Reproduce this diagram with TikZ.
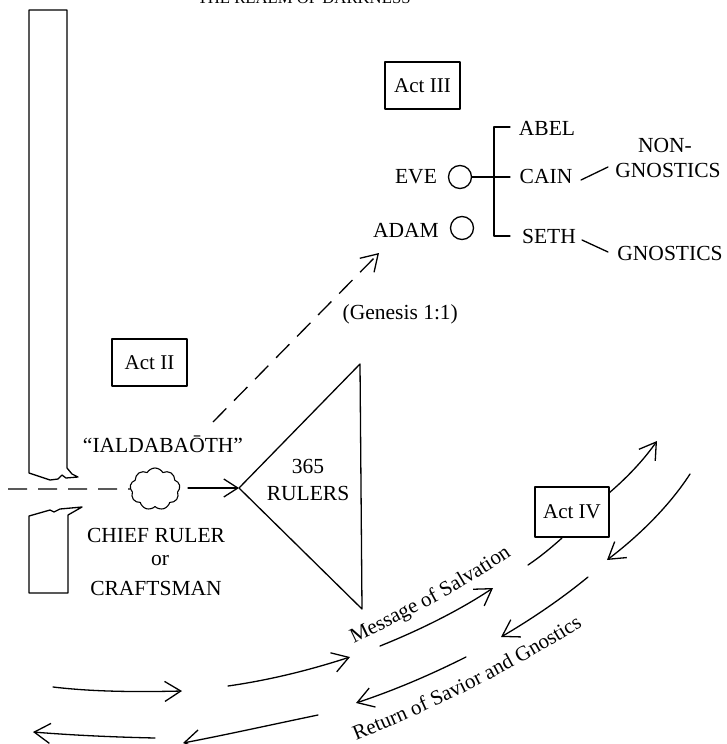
\documentclass[tikz,border=0pt]{standalone}
\usepackage{fontspec}
\setmainfont{Liberation Serif}
\usetikzlibrary{arrows.meta,shapes.symbols,decorations.text}
\begin{document}
\begin{tikzpicture}[x=1pt,y=-1pt, line width=1.3pt, line join=round, line cap=round,
  lbl/.style={font=\fontsize{21.5}{26}\selectfont, inner sep=0pt, anchor=base},
  actbox/.style={draw, line width=1.3pt, minimum width=75pt, minimum height=47pt,
                 font=\fontsize{21}{25}\selectfont, inner sep=0pt},
  barb/.style={-{Straight Barb[length=16pt,width=20pt,line width=1.3pt]}},
  ring/.style={circle, draw, minimum size=23pt, inner sep=0pt, line width=1.3pt},
  dsh/.style={dash pattern=on 19pt off 11pt, line cap=butt}
]
\useasboundingbox (0,0) rectangle (726,744);

% title (cut at top)
\node[lbl, anchor=base west, font=\fontsize{16.7}{20}\selectfont] (title) at (197,3) {THE REALM OF DARKNESS};

% torn bars
\draw (29,10) -- (67,10) -- (67,468) -- (72,474) -- (78,477) -- (66,478) -- (62,475)
      -- (58,479) -- (50,480) -- (29,473) -- cycle;
\draw (29,593) -- (29,516) -- (50,510) -- (54,512) -- (60,509) -- (82,507) -- (68,515)
      -- (68,593) -- cycle;

% Act boxes
\node[actbox] (act2) at (149.5,362.5) {Act II};
\node[actbox] (act3) at (422.5,85.5) {Act III};
\node[actbox, minimum width=74pt, minimum height=50pt] (act4) at (572,512) {Act IV};

% cloud / chief ruler
\node[cloud, draw, cloud puffs=9, cloud puff arc=120, aspect=1.2, minimum width=50pt,
      minimum height=42pt, inner sep=0pt, line width=1.1pt] (cloud) at (155,489) {};
\node[lbl] (ial) at (163,452) {``IALDABA\=OTH''};
\node[lbl] (chief) at (156,542) {CHIEF RULER};
\node[lbl] (or) at (160,565) {or};
\node[lbl] (craft) at (156,595) {CRAFTSMAN};

\coordinate (dstart) at (8,489);
\draw[dsh] (dstart) -- (cloud.west);

% triangle of rulers
\coordinate (tl) at (239,488);
\coordinate (tt) at (360,364);
\coordinate (tb) at (362,609);
\coordinate (cl) at (188,488);
\draw (tl) -- (tt) -- (tb) -- cycle;
\draw[-{Straight Barb[length=14pt,width=18pt,line width=1.3pt]}] (cl) -- (tl);
\node[lbl] (n365) at (308,473) {365};
\node[lbl] (rulers) at (308,500) {RULERS};

% dashed arrow to Adam
\coordinate (ds) at (213,422);
\coordinate (de) at (379,253);
\draw[dsh, barb] (ds) -- (de);
\node[lbl, anchor=base west] (gen) at (342,319) {(Genesis 1:1)};

% Act III family
\node[lbl] (eve) at (416,183) {EVE};
\node[lbl] (adam) at (406,237) {ADAM};
\node[ring] (evec) at (460,177) {};
\node[ring] (adamc) at (462,228) {};
\coordinate (brT) at (494,127);
\coordinate (brB) at (494,236);
\coordinate (brTe) at (510,127);
\coordinate (brBe) at (510,236);
\coordinate (brM) at (510,177);
\draw (brTe) -- (brT) -- (brB) -- (brBe);
\draw (evec.east) -- (brM);
\node[lbl] (abel) at (547,135) {ABEL};
\node[lbl] (cain) at (546,183) {CAIN};
\node[lbl] (seth) at (549,243) {SETH};
\node[lbl] (non) at (665,152) {NON-};
\node[lbl] (gn1) at (668,177) {GNOSTICS};
\node[lbl] (gn2) at (670,260) {GNOSTICS};
\coordinate (c1) at (581,180); \coordinate (c2) at (608,167);
\coordinate (s1) at (582,240); \coordinate (s2) at (608,252);
\draw (c1) -- (c2);
\draw (s1) -- (s2);

% message of salvation chain
\coordinate (a1s) at (53,687);  \coordinate (a1e) at (182,691);
\coordinate (a2s) at (228,686); \coordinate (a2e) at (350,657);
\coordinate (a3s) at (380,646); \coordinate (a3e) at (493,588);
\coordinate (a4s) at (528,565); \coordinate (a4e) at (562,538);
\coordinate (a5s) at (609,493); \coordinate (a5e) at (657,441);
\draw[barb] (a1s) .. controls (95,692) and (140,692) .. (a1e);
\draw[barb] (a2s) .. controls (270,680) and (310,670) .. (a2e);
\draw[barb] (a3s) .. controls (420,630) and (460,610) .. (a3e);
\draw (a4s) .. controls (540,557) and (552,547) .. (a4e);
\draw[barb] (a5s) .. controls (630,475) and (645,458) .. (a5e);

% return chain
\coordinate (b1s) at (690,474); \coordinate (b1e) at (607,560);
\coordinate (b2s) at (588,577); \coordinate (b2e) at (501,637);
\coordinate (b3s) at (466,657); \coordinate (b3e) at (356,703);
\coordinate (b4s) at (318,715); \coordinate (b4e) at (183,743);
\coordinate (b5s) at (155,738); \coordinate (b5e) at (33,732);
\draw[barb] (b1s) .. controls (670,505) and (640,535) .. (b1e);
\draw[barb] (b2s) .. controls (560,600) and (530,620) .. (b2e);
\draw[barb] (b3s) .. controls (430,675) and (395,690) .. (b3e);
\draw[barb] (b4s) .. controls (270,725) and (225,735) .. (b4e);
\draw[barb] (b5s) .. controls (110,737) and (70,735) .. (b5e);

% curved labels
\path[decorate, decoration={text along path, text align=center,
      text={|\fontsize{21}{25}\selectfont|Message of Salvation}}]
  (350,645) .. controls (405,619) and (460,591) .. (515,553);
\path[decorate, decoration={text along path, text align=center,
      text={|\fontsize{21}{25}\selectfont|Return of Savior and Gnostics}}]
  (348,744) .. controls (428,712) and (510,673) .. (590,621);
\end{tikzpicture}
\end{document}
